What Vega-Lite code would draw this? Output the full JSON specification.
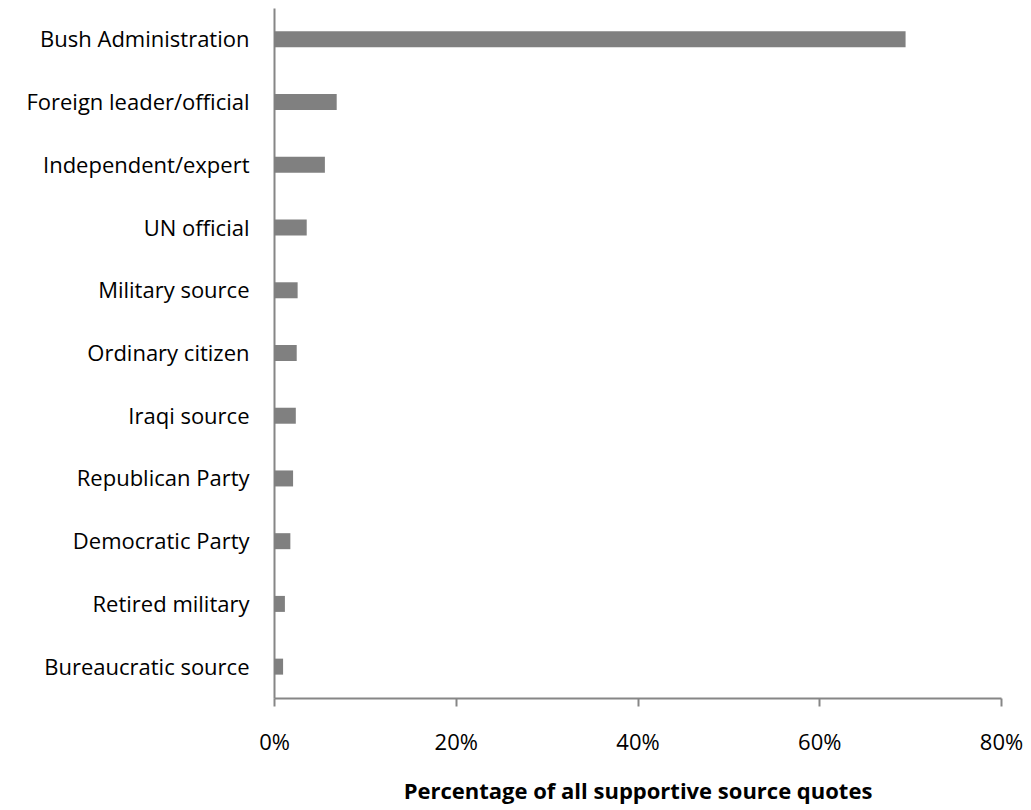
{
  "$schema": "https://vega.github.io/schema/vega-lite/v6.json",
  "autosize": {"type": "none"},
  "width": 727,
  "height": 690,
  "padding": {"left": 274, "top": 8, "right": 30, "bottom": 112},
  "background": "white",
  "config": {"view": {"stroke": null}, "font": "Open Sans"},
  "data": {"values": [
    {"source": "Bush Administration", "pct": 0.695},
    {"source": "Foreign leader/official", "pct": 0.069},
    {"source": "Independent/expert", "pct": 0.056},
    {"source": "UN official", "pct": 0.036},
    {"source": "Military source", "pct": 0.026},
    {"source": "Ordinary citizen", "pct": 0.025},
    {"source": "Iraqi source", "pct": 0.024},
    {"source": "Republican Party", "pct": 0.021},
    {"source": "Democratic Party", "pct": 0.018},
    {"source": "Retired military", "pct": 0.012},
    {"source": "Bureaucratic source", "pct": 0.010}
  ]},
  "mark": {"type": "bar", "color": "#808080"},
  "encoding": {
    "y": {
      "field": "source", "type": "nominal", "sort": null,
      "scale": {"paddingInner": 0.745, "paddingOuter": 0.3725},
      "axis": {
        "title": null, "ticks": false, "labelPadding": 25, "labelFontSize": 22,
        "labelColor": "#000000", "labelFont": "Open Sans", "labelBaseline": "middle",
        "labelOffset": 1,
        "domainColor": "#868686", "domainWidth": 2, "labelLimit": 300
      }
    },
    "x": {
      "field": "pct", "type": "quantitative",
      "scale": {"domain": [0, 0.8], "nice": false},
      "axis": {
        "values": [0, 0.2, 0.4, 0.6, 0.8], "format": ".0%", "grid": false,
        "labelFlush": false,
        "title": "Percentage of all supportive source quotes",
        "titleFontSize": 22, "titleFontWeight": "bold", "titleColor": "#000000",
        "titleFont": "Open Sans", "titlePadding": 28,
        "labelFontSize": 22, "labelColor": "#000000", "labelPadding": 26,
        "domainColor": "#868686", "domainWidth": 2,
        "tickColor": "#868686", "tickWidth": 2, "tickSize": 8
      }
    }
  }
}
